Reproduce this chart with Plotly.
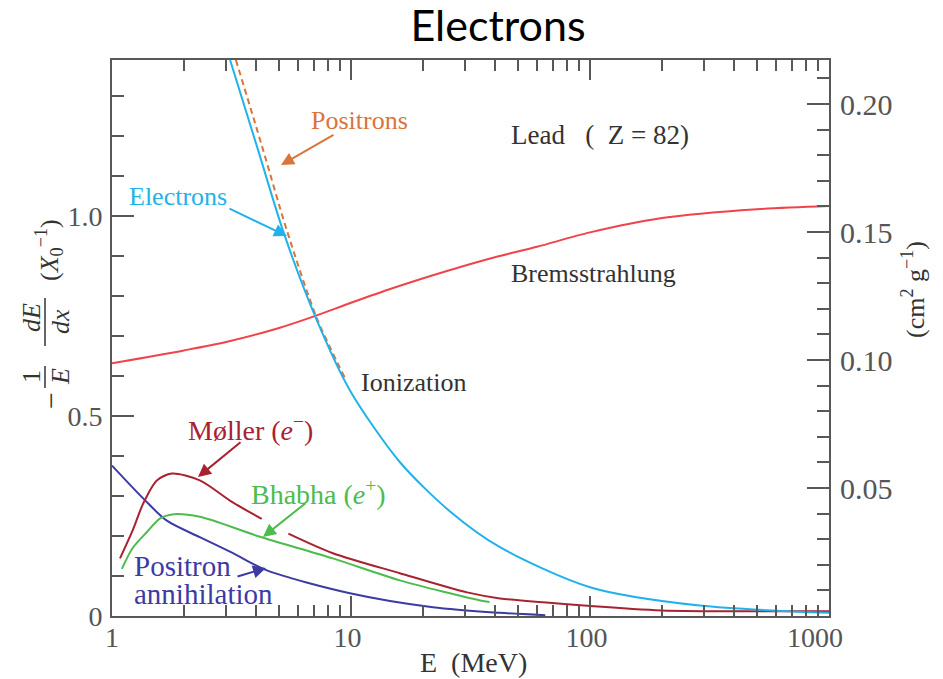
import plotly.graph_objects as go

# ---------------- data ----------------
ion_E = [3.12, 4.08, 5.19, 7.14, 9.9, 16.0, 25.9, 42.0, 100.0, 288.0, 1000.0]
ion_v = [1.39, 1.166, 0.964, 0.744, 0.564, 0.385, 0.262, 0.172, 0.072, 0.026, 0.008]

pos_E = [3.30, 4.24, 5.39, 7.2, 9.45]
pos_v = [1.39, 1.175, 0.964, 0.744, 0.594]

brems_E = [1.0, 2.0, 3.0, 5.0, 7.0, 10.0, 15.0, 25.0, 40.0, 60.0, 100.0, 200.0, 500.0, 1000.0]
brems_v = [0.632, 0.664, 0.685, 0.72, 0.749, 0.783, 0.82, 0.862, 0.897, 0.923, 0.959, 0.995, 1.017, 1.025]

moller_E = [1.08, 1.22, 1.35, 1.54, 1.78, 2.33, 3.2, 4.23, None, 5.47, 8.4, 16.0, 30.6, 42.0, 100.0, 200.0, 400.0, 1000.0]
moller_v = [0.144, 0.214, 0.281, 0.339, 0.356, 0.339, 0.284, 0.243, None, 0.206, 0.157, 0.107, 0.059, 0.044, 0.025, 0.014, 0.012, 0.012]

bhabha_E = [1.1, 1.22, 1.4, 1.59, 1.78, 2.33, 4.16, 8.4, 16.0, 34.7, 38.0]
bhabha_v = [0.118, 0.17, 0.21, 0.244, 0.254, 0.248, 0.198, 0.144, 0.089, 0.039, 0.035]

annih_E = [1.0, 1.35, 1.69, 2.33, 3.21, 4.45, 9.9, 22.0, 42.0, 65.0]
annih_v = [0.376, 0.294, 0.239, 0.197, 0.157, 0.114, 0.057, 0.022, 0.008, 0.002]

x_ticks = [1, 10, 100, 1000]
x_ticktext = ["1", "10\u00a0", "100\u00a0", "1000\u00a0\u00a0\u00a0\u00a0"]
y_ticks = [0, 0.5, 1.0]
y_ticktext = ["0", "0.5", "1.0"]
y2_ticks = [0.05, 0.10, 0.15, 0.20]
y2_ticktext = ["0.05", "0.10", "0.15", "0.20"]

# ---------------- styling ----------------
CYAN = "#22B2EA"
ORANGE = "#D9743A"
RED = "#F0434B"
DRED = "#A8222F"
GREEN = "#4DBB4D"
BLUE = "#3B3BA3"
AX = "#585858"
TXT = "#333333"
SERIF = "Liberation Serif, Times New Roman, serif"

W, H = 943, 679
L, R, T, B = 112, 829, 60, 616


def pp(px, py):
    return (px - L) / (R - L), (B - py) / (B - T)


fig = go.Figure()
line_kw = dict(mode="lines", showlegend=False, hoverinfo="skip")
fig.add_trace(go.Scatter(x=brems_E, y=brems_v, line=dict(color=RED, width=2, shape="spline", smoothing=0.8), **line_kw))
fig.add_trace(go.Scatter(x=annih_E, y=annih_v, line=dict(color=BLUE, width=2, shape="spline", smoothing=0.8), **line_kw))
fig.add_trace(go.Scatter(x=bhabha_E, y=bhabha_v, line=dict(color=GREEN, width=2, shape="spline", smoothing=0.8), **line_kw))
fig.add_trace(go.Scatter(x=moller_E, y=moller_v, line=dict(color=DRED, width=2, shape="spline", smoothing=0.8), connectgaps=False, **line_kw))
fig.add_trace(go.Scatter(x=pos_E, y=pos_v, line=dict(color=ORANGE, width=2, dash="6px,4px", shape="spline", smoothing=0.8), **line_kw))
fig.add_trace(go.Scatter(x=ion_E, y=ion_v, line=dict(color=CYAN, width=2, shape="spline", smoothing=0.8), **line_kw))
fig.add_trace(go.Scatter(x=[], y=[], yaxis="y2", **line_kw))

tickfont = dict(family=SERIF, size=28, color="#555555")

x_minor = [m * d for d in (1, 10, 100) for m in range(2, 10)]
y2_minor = [k / 100 for k in range(1, 22) if k % 5 != 0]

fig.update_layout(
    width=W, height=H,
    margin=dict(l=L, r=W - R, t=T, b=H - B, pad=0, autoexpand=False),
    paper_bgcolor="white", plot_bgcolor="white",
    title=dict(text="Electrons", font=dict(family="Lato", size=43, color="black"),
               xref="container", x=498 / W, xanchor="center",
               yref="container", y=1 - 26 / H, yanchor="middle", automargin=False),
    xaxis=dict(type="log", range=[0, 3], tickvals=x_ticks, ticktext=x_ticktext, automargin=False,
               ticks="inside", ticklen=20, tickwidth=1.5, tickcolor=AX,
               showline=True, linecolor=AX, linewidth=2, mirror="ticks",
               showgrid=False, zeroline=False, tickfont=tickfont, ticklabelstandoff=-5,
               minor=dict(tickvals=x_minor, ticks="inside", ticklen=11, tickwidth=1.5, tickcolor=AX, showgrid=False)),
    yaxis=dict(range=[0, 1.39], tickvals=y_ticks, ticktext=y_ticktext, automargin=False,
               ticks="inside", ticklen=22, tickwidth=1.5, tickcolor=AX,
               showline=True, linecolor=AX, linewidth=2, mirror=False,
               showgrid=False, zeroline=False, tickfont=tickfont, ticklabelstandoff=2,
               minor=dict(dtick=0.1, tick0=0, ticks="inside", ticklen=12, tickwidth=1.5, tickcolor=AX, showgrid=False)),
    yaxis2=dict(overlaying="y", side="right", range=[0, 1.39 / 6.4], automargin=False,
                tickvals=y2_ticks, ticktext=y2_ticktext,
                ticks="inside", ticklen=22, tickwidth=1.5, tickcolor=AX,
                showline=True, linecolor=AX, linewidth=2,
                showgrid=False, zeroline=False, tickfont=dict(family=SERIF, size=30, color="#555555"),
                ticklabelstandoff=3,
                minor=dict(tickvals=y2_minor, ticks="inside", ticklen=12, tickwidth=1.5, tickcolor=AX, showgrid=False)),
)

ann = []


def label(text, px, py, color, size=26, xanchor="center", angle=0):
    x, y = pp(px, py)
    ann.append(dict(text=text, x=x, y=y, xref="paper", yref="paper", showarrow=False,
                    xanchor=xanchor, yanchor="middle", textangle=angle,
                    font=dict(family=SERIF, size=size, color=color)))


def arrow(hx, hy, tx, ty, color):
    x, y = pp(hx, hy)
    ann.append(dict(text="", x=x, y=y, xref="paper", yref="paper", showarrow=True,
                    ax=tx - hx, ay=ty - hy, arrowhead=2, arrowsize=1.3, arrowwidth=2,
                    arrowcolor=color, standoff=0, startstandoff=0))


label("Positrons", 359, 120, ORANGE)
label("Electrons", 178, 196, CYAN)
label("Lead\u00a0\u00a0\u00a0(\u00a0\u00a0Z\u00a0=\u00a082)", 600, 135, TXT, size=27)
label("Bremsstrahlung", 593, 273, TXT)
label("Ionization", 413, 383, TXT)
label("Møller (<i>e</i><sup>−</sup>)", 250, 428, DRED, size=28)
label("Bhabha (<i>e</i><sup>+</sup>)", 318, 492, GREEN, size=28)
label("Positron", 132, 566, BLUE, size=29, xanchor="left")
label("annihilation", 132, 594, BLUE, size=29, xanchor="left")

arrow(281, 165, 335, 134, ORANGE)
arrow(287, 236, 228, 208, CYAN)
arrow(198, 477, 242, 441, DRED)
arrow(263, 537, 307, 502, GREEN)
arrow(266, 568, 236, 577, BLUE)

# x axis title
label("E\u00a0\u00a0(MeV)", 473, 662, TXT, size=28)

# left axis title, built as pieces (rotated fraction)
label("−", 50, 401, TXT, size=30, angle=-90)
label("1", 31, 377, TXT, size=26, angle=-90)
label("<i>E</i>", 60, 377, TXT, size=26, angle=-90)
label("<i>dE</i>", 31, 318, TXT, size=26, angle=-90)
label("<i>dx</i>", 60, 322, TXT, size=26, angle=-90)
label("(<i>X</i><sub>0</sub><sup>−1</sup>)", 49, 250, TXT, size=26, angle=-90)
# right axis title
label("(cm<sup>2</sup>\u00a0g<sup>−1</sup>)", 913, 290, TXT, size=26, angle=-90)

fig.update_layout(annotations=ann)

shapes = []
for (px, y0, y1) in [(45, 366, 388), (45, 298, 346)]:
    xa, ya = pp(px, y0)
    _, yb = pp(px, y1)
    shapes.append(dict(type="line", xref="paper", yref="paper", x0=xa, x1=xa, y0=ya, y1=yb,
                       line=dict(color=TXT, width=1.5)))
fig.update_layout(shapes=shapes)

fig.write_html("out.html")
